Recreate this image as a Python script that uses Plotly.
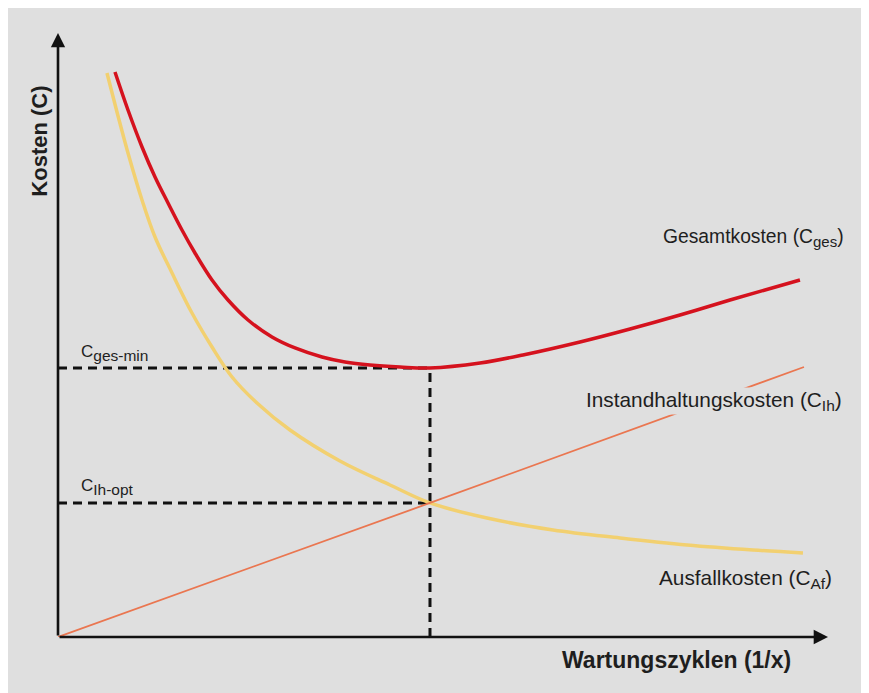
import plotly.graph_objects as go

# ---- data (axis units 0..100) ----
ges_x = [7.40, 9.09, 10.91, 12.60, 14.29, 16.10, 17.79, 20.0, 22.08, 24.68, 27.79, 30.78,
         34.29, 37.27, 40.52, 44.42, 48.31, 54.81, 60.39, 67.79, 74.29, 80.78, 87.27, 96.36]
ges_y = [93.54, 87.25, 81.13, 76.16, 71.85, 67.38, 63.58, 59.11, 55.79, 52.48, 49.67, 47.85,
         46.36, 45.53, 45.03, 44.70, 44.54, 45.36, 46.69, 48.84, 50.99, 53.31, 55.79, 59.11]

af_x = [6.36, 7.66, 9.09, 10.91, 12.60, 14.81, 17.40, 20.0, 22.60, 25.84, 30.13, 36.62,
        43.12, 48.31, 55.71, 64.29, 72.99, 81.69, 90.26, 96.75]
af_y = [93.38, 86.92, 80.13, 72.35, 66.23, 60.26, 53.64, 48.01, 43.05, 38.74, 34.27, 29.14,
        25.17, 22.19, 19.70, 17.72, 16.39, 15.23, 14.40, 13.91]

ih_x = [0.0, 48.31, 96.88]
ih_y = [0.0, 22.19, 44.7]

x_opt = 48.31
y_ges_min = 44.54
y_ih_opt = 22.19
axis_max = 100

BG = "#dfdfdf"
FONT = "Liberation Sans, Arial, sans-serif"
TXT = "#1e1e1e"

fig = go.Figure()

dash = "9px,6px"
for xs, ys in [([0, x_opt], [y_ges_min, y_ges_min]),
               ([0, x_opt], [y_ih_opt, y_ih_opt]),
               ([x_opt, x_opt], [0, y_ges_min])]:
    fig.add_trace(go.Scatter(x=xs, y=ys, mode="lines",
                             line=dict(color="#111111", width=3, dash=dash), hoverinfo="skip"))

# curves
fig.add_trace(go.Scatter(x=af_x, y=af_y, mode="lines", line_shape="spline",
                         line=dict(color="#f2d070", width=3.5), name="Ausfallkosten"))
fig.add_trace(go.Scatter(x=ih_x, y=ih_y, mode="lines",
                         line=dict(color="#ea7650", width=1.8), name="Instandhaltungskosten"))
fig.add_trace(go.Scatter(x=ges_x, y=ges_y, mode="lines", line_shape="spline",
                         line=dict(color="#d5121e", width=3.5), name="Gesamtkosten"))

# axes with arrows
for (tx, ty) in [(axis_max, 0), (0, axis_max)]:
    fig.add_annotation(x=tx, y=ty, ax=0, ay=0, xref="x", yref="y", axref="x", ayref="y",
                       showarrow=True, arrowhead=2, arrowsize=1.1, arrowwidth=2.6,
                       arrowcolor="#111111", text="")


def sub(s, px):
    return f"<sub><span style='font-size:{px}px'>{s}</span></sub>"


def label(text, x, y, size=19, xanchor="left", bold=False, bg=None, angle=0):
    fig.add_annotation(x=x / axis_max, y=y / axis_max, xref="paper", yref="paper",
                       text=f"<b>{text}</b>" if bold else text,
                       showarrow=False, xanchor=xanchor, yanchor="middle", textangle=angle,
                       font=dict(family=FONT, size=size, color=TXT),
                       bgcolor=bg, borderpad=0)


label("Gesamtkosten (C" + sub("ges", 15) + ")", 102.2, 66.0, size=19.3, xanchor="right")
label("Instandhaltungskosten (C" + sub("Ih", 15.5) + ")", 102.0, 39.0, size=20.8,
      xanchor="right", bg=BG)
label("Ausfallkosten (C" + sub("Af", 15.5) + ")", 100.6, 9.6, size=20.8, xanchor="right")
label("C" + sub("ges-min", 15.5), 2.8, 47.0, size=17)
label("C" + sub("Ih-opt", 15.5), 2.8, 24.8, size=17)
label("Wartungszyklen (1/x)", 80.3, -3.8, size=23, xanchor="center", bold=True)
label("Kosten (C)", -2.4, 82.1, size=22, xanchor="center", bold=True, angle=-90)

fig.update_layout(
    width=861, height=685, autosize=False,
    margin=dict(l=50, r=41, t=25, b=56, pad=0),
    paper_bgcolor=BG, plot_bgcolor="rgba(0,0,0,0)",
    showlegend=False,
    xaxis=dict(range=[0, axis_max], visible=False, fixedrange=True),
    yaxis=dict(range=[0, axis_max], visible=False, fixedrange=True),
)

fig.write_html("out.html", config={"displayModeBar": False})
